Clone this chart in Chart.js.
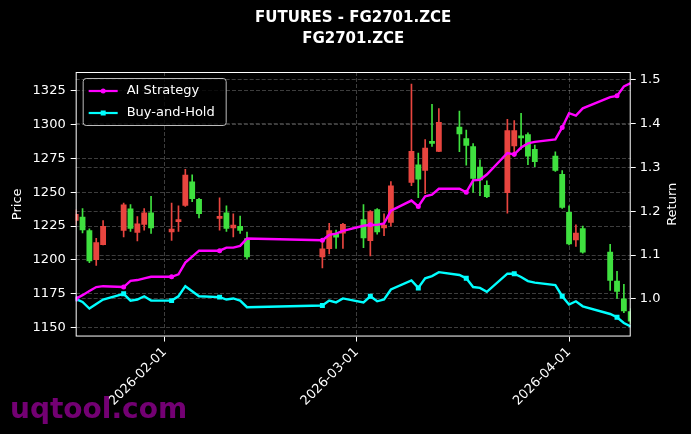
<!DOCTYPE html>
<html>
<head>
<meta charset="utf-8">
<script src="https://cdn.jsdelivr.net/npm/chart.js@4.4.1/dist/chart.umd.min.js"></script>
<style>
    html, body { margin: 0; padding: 0; background: #000; }
    #wrap { width: 691px; height: 434px; position: relative; }
</style>
</head>
<body>
<div id="wrap"><canvas id="futuresChart"></canvas></div>
<script>
// trading days and daily OHLC
var dates = [
    '2026-01-19','2026-01-20','2026-01-21','2026-01-22','2026-01-23',
    '2026-01-26','2026-01-27','2026-01-28','2026-01-29','2026-01-30',
    '2026-02-02','2026-02-03','2026-02-04','2026-02-05','2026-02-06',
    '2026-02-09','2026-02-10','2026-02-11','2026-02-12','2026-02-13',
    '2026-02-24','2026-02-25','2026-02-26','2026-02-27',
    '2026-03-02','2026-03-03','2026-03-04','2026-03-05','2026-03-06',
    '2026-03-09','2026-03-10','2026-03-11','2026-03-12','2026-03-13',
    '2026-03-16','2026-03-17','2026-03-18','2026-03-19','2026-03-20',
    '2026-03-23','2026-03-24','2026-03-25','2026-03-26','2026-03-27',
    '2026-03-30','2026-03-31','2026-04-01','2026-04-02','2026-04-03',
    '2026-04-07','2026-04-08','2026-04-09','2026-04-10'
];
var opens = [
    1229, 1232, 1222, 1200, 1211, 1221.5, 1238, 1220, 1226, 1235,
    1220.5, 1228, 1240, 1258, 1245, 1230.5, 1235, 1223.5, 1225, 1216,
    1202, 1208, 1219.5, 1219.5, 1230, 1214, 1237.5, 1223.5, 1227.5, 1257,
    1270.5, 1266, 1288, 1280, 1298.5, 1290, 1284, 1269, 1255.5, 1249.5,
    1284, 1292, 1293, 1282, 1277, 1263.5, 1235.5, 1214.5, 1223.5, 1206,
    1184.5, 1171.5, 1162
];
var highs = [
    1237, 1238, 1223, 1216, 1229, 1242, 1241, 1232, 1238, 1247,
    1242, 1240, 1267, 1263, 1245.5, 1246, 1240, 1234, 1232.5, 1220.5,
    1215, 1227, 1222, 1227, 1241, 1236.5, 1238, 1234, 1258, 1330,
    1279, 1289, 1315, 1312, 1310, 1296, 1286, 1274, 1258.5, 1304,
    1303, 1308.5, 1294, 1285, 1280, 1266, 1240, 1226, 1225, 1211.5,
    1191.5, 1182, 1164
];
var lows = [
    1226, 1220, 1198, 1196, 1211, 1217, 1221, 1214, 1222, 1219.5,
    1214.5, 1221, 1239.5, 1243, 1231, 1222, 1221, 1217, 1219.5, 1201,
    1194, 1204.5, 1208.5, 1208.5, 1209, 1203, 1219, 1218, 1225, 1255,
    1246, 1249, 1284, 1280, 1280, 1270, 1250, 1247.5, 1246, 1234.5,
    1276.5, 1282, 1270.5, 1269, 1265.5, 1238, 1211, 1210, 1205, 1177.5,
    1171.5, 1161, 1153
];
var closes = [
    1234, 1222, 1199, 1213, 1225, 1241, 1223, 1227, 1235, 1223.5,
    1223, 1230, 1263, 1245, 1234, 1232.5, 1223, 1226, 1221.5, 1202,
    1208.5, 1222, 1216.5, 1226.5, 1216, 1236, 1220.5, 1226, 1255, 1280.5,
    1259.5, 1283, 1286, 1302, 1293, 1284.5, 1260, 1259, 1246.5, 1296,
    1296, 1290, 1276.5, 1272.5, 1266, 1238.5, 1211.5, 1220, 1205.5, 1184.5,
    1176.5, 1162, 1154.5
];
var aiStrategy = [
    1.0, 1.0085, 1.018, 1.027, 1.029, 1.027, 1.041, 1.043, 1.047, 1.0505,
    1.0505, 1.056, 1.083, 1.0965, 1.11, 1.11, 1.117, 1.117, 1.121, 1.138,
    1.134, 1.146, 1.149, 1.1555, 1.167, 1.169, 1.169, 1.172, 1.2015, 1.2245,
    1.211, 1.234, 1.238, 1.2515, 1.2515, 1.2435, 1.2705, 1.272, 1.284, 1.333,
    1.330, 1.3455, 1.355, 1.3585, 1.364, 1.3915, 1.424, 1.4185, 1.435, 1.4605,
    1.4635, 1.485, 1.493
];
var buyHold = [
    1.0, 0.993, 0.978, 0.9885, 0.9985, 1.0115, 0.996, 0.9985, 1.006, 0.996,
    0.996, 1.006, 1.029, 1.0175, 1.006, 1.004, 0.9985, 1.001, 0.996, 0.981,
    0.985, 0.996, 0.992, 1.001, 0.992, 1.006, 0.9945, 0.9985, 1.0215, 1.042,
    1.025, 1.047, 1.052, 1.061, 1.0545, 1.047, 1.027, 1.025, 1.016, 1.0575,
    1.0575, 1.05, 1.0405, 1.037, 1.0315, 1.006, 0.987, 0.9945, 0.983, 0.9655,
    0.958, 0.945, 0.937
];
var priceTicks = [1150, 1175, 1200, 1225, 1250, 1275, 1300, 1325];
var returnTicks = [1.0, 1.1, 1.2, 1.3, 1.4, 1.5];
var dateTicks = ['2026-02-01', '2026-03-01', '2026-04-01'];

var upColor = '#e8453f';
var downColor = '#3fe03f';
var gridColor = 'rgba(255,255,255,0.3)';

function dayNum(s) {
    return Date.UTC(+s.slice(0, 4), +s.slice(5, 7) - 1, +s.slice(8, 10)) / 86400000;
}
function dayStr(v) {
    return new Date(Math.round(v) * 86400000).toISOString().slice(0, 10);
}

var candleColors = dates.map(function(d, i) {
    return closes[i] >= opens[i] ? upColor : downColor;
});

// frame around the plot, legend inside it, right axis title, watermark
var framePlugin = {
    id: 'framePlugin',
    afterDraw: function(chart) {
        var ctx = chart.ctx;
        var a = chart.chartArea;
        ctx.save();

        // legend box
        var lx = a.left + 7, ly = a.top + 6, lw = 143, lh = 47;
        ctx.beginPath();
        ctx.roundRect(lx + 0.5, ly + 0.5, lw, lh, 3);
        ctx.fillStyle = 'rgba(0,0,0,0.8)';
        ctx.fill();
        ctx.strokeStyle = '#bbbbbb';
        ctx.lineWidth = 1;
        ctx.stroke();
        chart.data.datasets.slice(0, 2).forEach(function(ds, i) {
            var y = ly + 13 + i * 22;
            ctx.strokeStyle = ds.borderColor;
            ctx.lineWidth = 2.2;
            ctx.beginPath();
            ctx.moveTo(lx + 6, y);
            ctx.lineTo(lx + 35, y);
            ctx.stroke();
            ctx.fillStyle = ds.borderColor;
            ctx.beginPath();
            if (ds.pointStyle === 'rect') {
                ctx.rect(lx + 18, y - 2.5, 5, 5);
            } else {
                ctx.arc(lx + 20.5, y, 2.5, 0, Math.PI * 2);
            }
            ctx.fill();
            ctx.fillStyle = '#ffffff';
            ctx.font = '13px "DejaVu Sans"';
            ctx.textBaseline = 'middle';
            ctx.textAlign = 'left';
            ctx.fillText(ds.label, lx + 44, y);
        });

        // spines
        ctx.strokeStyle = '#ffffff';
        ctx.lineWidth = 1;
        ctx.strokeRect(a.left + 0.5, a.top + 0.5, a.right - a.left - 1, a.bottom - a.top - 1);

        // right axis title, reading upwards
        ctx.translate(673, (a.top + a.bottom) / 2);
        ctx.rotate(-Math.PI / 2);
        ctx.fillStyle = '#ffffff';
        ctx.font = '13px "DejaVu Sans"';
        ctx.textAlign = 'center';
        ctx.textBaseline = 'middle';
        ctx.fillText('Return', 0, 0);
        ctx.setTransform(1, 0, 0, 1, 0, 0);

        // watermark
        ctx.fillStyle = 'rgba(128,0,128,0.9)';
        ctx.font = 'bold 28px "DejaVu Sans"';
        ctx.textAlign = 'left';
        ctx.textBaseline = 'alphabetic';
        ctx.fillText('uqtool.com', 10, 418);
        ctx.restore();
    }
};

Chart.defaults.font.family = '"DejaVu Sans", sans-serif';
Chart.defaults.color = '#ffffff';

var ctx = document.getElementById('futuresChart').getContext('2d');
var futuresChart = new Chart(ctx, {
    type: 'bar',
    data: {
        datasets: [{
            type: 'line',
            label: 'AI Strategy',
            data: dates.map(function(d, i) { return {x: dayNum(d), y: aiStrategy[i]}; }),
            yAxisID: 'y2',
            borderColor: '#ff00ff',
            backgroundColor: '#ff00ff',
            borderWidth: 2.4,
            pointStyle: 'circle',
            pointRadius: function(c) { return c.dataIndex % 5 === 0 ? 2.5 : 0; },
            pointBorderWidth: 0,
            tension: 0,
            order: 0
        }, {
            type: 'line',
            label: 'Buy-and-Hold',
            data: dates.map(function(d, i) { return {x: dayNum(d), y: buyHold[i]}; }),
            yAxisID: 'y2',
            borderColor: '#00ffff',
            backgroundColor: '#00ffff',
            borderWidth: 2.4,
            pointStyle: 'rect',
            pointRadius: function(c) { return c.dataIndex % 5 === 0 ? 3.5 : 0; },
            pointBorderWidth: 0,
            tension: 0,
            order: 0
        }, {
            label: 'body',
            data: dates.map(function(d, i) { return {x: dayNum(d), y: [opens[i], closes[i]]}; }),
            yAxisID: 'y',
            backgroundColor: candleColors,
            borderWidth: 0,
            grouped: false,
            barPercentage: 0.85,
            categoryPercentage: 1,
            order: 1
        }, {
            label: 'wick',
            data: dates.map(function(d, i) { return {x: dayNum(d), y: [lows[i], highs[i]]}; }),
            yAxisID: 'y',
            backgroundColor: candleColors,
            borderWidth: 0,
            grouped: false,
            barThickness: 1,
            order: 2
        }]
    },
    options: {
        responsive: true,
        maintainAspectRatio: false,
        animation: false,
        events: [],
        layout: {
            padding: {left: 0, right: 0, top: 0, bottom: 22}
        },
        plugins: {
            legend: {display: false},
            tooltip: {enabled: false},
            title: {
                display: true,
                fullSize: false,
                text: ['FUTURES - FG2701.ZCE', 'FG2701.ZCE'],
                color: '#ffffff',
                font: {size: 15, weight: 'bold', lineHeight: 1.4},
                padding: {top: 7.5, bottom: 22.5}
            }
        },
        scales: {
            x: {
                type: 'linear',
                min: dayNum(dates[0]),
                max: dayNum(dates[dates.length - 1]),
                offset: false,
                afterBuildTicks: function(axis) {
                    axis.ticks = dateTicks.map(function(d) { return {value: dayNum(d)}; });
                },
                ticks: {
                    color: '#ffffff',
                    font: {size: 13},
                    autoSkip: false,
                    maxRotation: 45,
                    minRotation: 45,
                    padding: 3,
                    callback: function(v) { return dayStr(v); }
                },
                grid: {color: gridColor, lineWidth: 0.8, offset: false, tickLength: 5, tickColor: '#ffffff', tickWidth: 1},
                border: {display: false, dash: [4, 2]}
            },
            y: {
                position: 'left',
                min: 1143.3,
                max: 1339,
                afterBuildTicks: function(axis) {
                    axis.ticks = priceTicks.map(function(v) { return {value: v}; });
                },
                ticks: {
                    color: '#ffffff',
                    font: {size: 13},
                    padding: 5,
                    callback: function(v) { return String(v); }
                },
                title: {display: true, text: 'Price', color: '#ffffff', font: {size: 13}, padding: {top: 10, bottom: 2}},
                grid: {color: gridColor, lineWidth: 0.8, tickLength: 5, tickColor: '#ffffff', tickWidth: 1},
                border: {display: false, dash: [4, 2]}
            },
            y2: {
                position: 'right',
                min: 0.914,
                max: 1.518,
                afterBuildTicks: function(axis) {
                    axis.ticks = returnTicks.map(function(v) { return {value: v}; });
                },
                ticks: {
                    color: '#ffffff',
                    font: {size: 13},
                    padding: 4,
                    callback: function(v) { return v.toFixed(1); }
                },
                // space kept here, text drawn by the plugin so it reads upwards
                title: {display: true, text: 'Return', color: 'rgba(0,0,0,0)', font: {size: 13}, padding: {top: 7, bottom: 4}},
                grid: {color: gridColor, lineWidth: 0.8, tickLength: 5, tickColor: '#ffffff', tickWidth: 1},
                border: {display: false, dash: [4, 2]}
            }
        }
    },
    plugins: [framePlugin]
});
</script>
</body>
</html>
